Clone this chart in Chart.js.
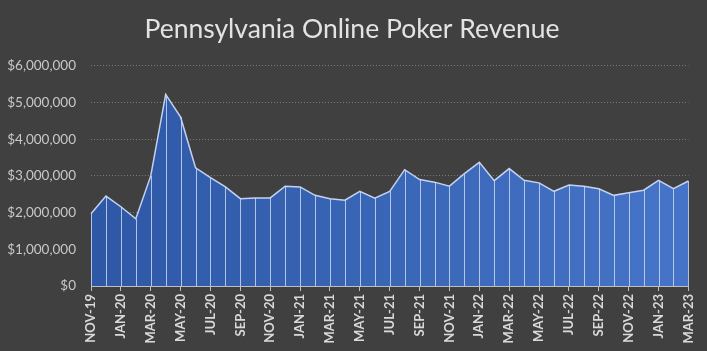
<!DOCTYPE html>
<html>
<head>
<meta charset="utf-8">
<script src="https://cdn.jsdelivr.net/npm/chart.js@4.4.1/dist/chart.umd.min.js"></script>
<style>
    html, body { margin: 0; padding: 0; background: #404040; }
    #wrap { width: 707px; height: 351px; }
</style>
</head>
<body>
<div id="wrap"><canvas id="pokerChart"></canvas></div>
<script>
// monthly labels, Nov 2019 .. Mar 2023
const months = [
    'NOV-19', 'DEC-19',
    'JAN-20', 'FEB-20', 'MAR-20', 'APR-20', 'MAY-20', 'JUN-20', 'JUL-20', 'AUG-20', 'SEP-20', 'OCT-20', 'NOV-20', 'DEC-20',
    'JAN-21', 'FEB-21', 'MAR-21', 'APR-21', 'MAY-21', 'JUN-21', 'JUL-21', 'AUG-21', 'SEP-21', 'OCT-21', 'NOV-21', 'DEC-21',
    'JAN-22', 'FEB-22', 'MAR-22', 'APR-22', 'MAY-22', 'JUN-22', 'JUL-22', 'AUG-22', 'SEP-22', 'OCT-22', 'NOV-22', 'DEC-22',
    'JAN-23', 'FEB-23', 'MAR-23'
];

// revenue in dollars
const revenue = [
    1970000, 2450000,
    2160000, 1830000, 3000000, 5220000, 4600000, 3220000, 2950000, 2700000, 2380000, 2400000, 2400000, 2720000,
    2700000, 2470000, 2380000, 2340000, 2580000, 2390000, 2580000, 3170000, 2900000, 2830000, 2720000, 3060000,
    3370000, 2870000, 3200000, 2880000, 2810000, 2580000, 2750000, 2720000, 2650000, 2470000, 2540000, 2610000,
    2880000, 2650000, 2860000
];

const yMax = 6000000;
const yStep = 1000000;

const fmtMoney = (v) => '$' + v.toLocaleString('en-US');

// vertical lines from each point down to the axis
const dropLines = {
    id: 'dropLines',
    afterDatasetsDraw(chart) {
        const meta = chart.getDatasetMeta(0);
        const bottom = chart.scales.y.getPixelForValue(0);
        const c = chart.ctx;
        c.save();
        c.strokeStyle = 'rgba(200, 215, 240, 0.85)';
        c.lineWidth = 1;
        meta.data.forEach(pt => {
            const x = Math.round(pt.x) + 0.5;
            c.beginPath();
            c.moveTo(x, pt.y);
            c.lineTo(x, bottom);
            c.stroke();
        });
        c.restore();
    }
};

// nudge the title so it is centred on the whole canvas
const titleShift = {
    id: 'titleShift',
    afterLayout(chart) {
        if (chart.titleBlock) chart.titleBlock.left += 15;
    }
};

new Chart(document.getElementById('pokerChart'), {
    type: 'line',
    data: {
        labels: months,
        datasets: [{
            data: revenue,
            fill: 'origin',
            borderColor: '#c3d2ee',
            borderWidth: 1.5,
            pointRadius: 0,
            tension: 0,
            backgroundColor: function(ctx) {
                const area = ctx.chart.chartArea;
                if (!area) return '#3a66b8';
                const g = ctx.chart.ctx.createLinearGradient(area.left, 0, area.right, 0);
                g.addColorStop(0, '#2e58a6');
                g.addColorStop(1, '#4674c8');
                return g;
            }
        }]
    },
    options: {
        responsive: true,
        maintainAspectRatio: false,
        animation: false,
        layout: { padding: { top: 14, right: 18, bottom: 0, left: 0 } },
        plugins: {
            legend: { display: false },
            tooltip: { enabled: false },
            title: {
                display: true,
                text: 'Pennsylvania Online Poker Revenue',
                color: '#e3e3e3',
                font: { family: 'Lato', size: 26.5, weight: 'normal' },
                padding: { top: 0, bottom: 20 }
            }
        },
        scales: {
            x: {
                offset: false,
                afterFit: s => { s.height = 65; },
                border: { display: true, color: '#bfbfbf', width: 1 },
                grid: {
                    drawOnChartArea: false,
                    drawTicks: true,
                    tickLength: 5,
                    color: ctx => (ctx.index % 2 === 0 ? '#bfbfbf' : 'rgba(0,0,0,0)')
                },
                ticks: {
                    autoSkip: false,
                    maxRotation: 90,
                    minRotation: 90,
                    padding: 3,
                    color: '#d9d9d9',
                    font: { family: 'Lato', size: 13, weight: 'bold' },
                    callback: function(val, i) {
                        return i % 2 === 0 ? this.getLabelForValue(val) : '';
                    }
                }
            },
            y: {
                min: 0,
                max: yMax,
                afterFit: s => { s.width = 91; },
                border: { display: false, dash: [1, 2] },
                grid: {
                    color: ctx => (ctx.tick.value === 0 ? 'rgba(0,0,0,0)' : '#7a7a7a'),
                    lineWidth: 1,
                    drawTicks: false
                },
                ticks: {
                    stepSize: yStep,
                    padding: 15,
                    color: '#c8c8c8',
                    font: { family: 'Lato', size: 13.5 },
                    callback: v => fmtMoney(v)
                }
            }
        }
    },
    plugins: [dropLines, titleShift]
});
</script>
</body>
</html>
